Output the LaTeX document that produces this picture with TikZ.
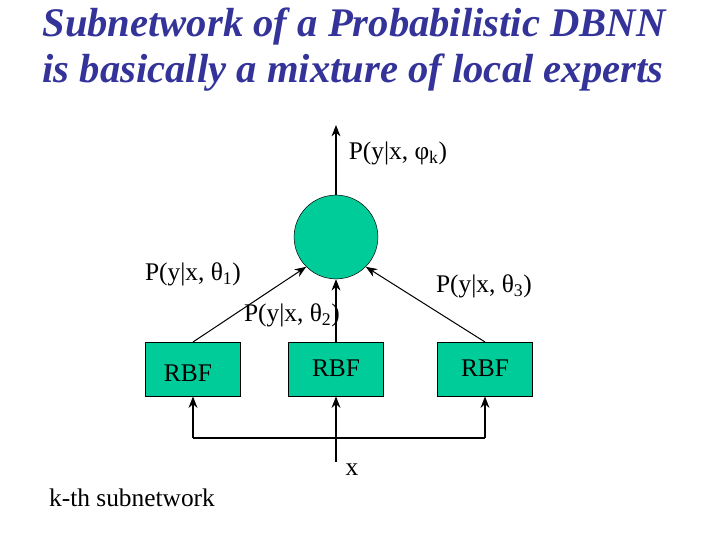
\documentclass[tikz,border=0pt]{standalone}
\usepackage{fontspec}
\setmainfont{Liberation Serif}
\usetikzlibrary{arrows.meta}
\definecolor{titleblue}{RGB}{51,51,153}
\definecolor{nodegreen}{RGB}{0,204,153}
\begin{document}
\begin{tikzpicture}[x=0.7875pt,y=-0.7875pt,
    lbl/.style={font=\fontsize{20}{22}\selectfont},
    rbfbox/.style={draw,fill=nodegreen,minimum width=74.8pt,minimum height=42.5pt,inner sep=0pt},
    arr/.style={-{Stealth[length=9pt,width=7pt]},thick}]
    \useasboundingbox (0,0) rectangle (720,540);
    % titel
    \node[titleblue,font=\fontsize{32}{34}\bfseries\itshape\selectfont] (t1) at (354,27) {Subnetwork of a Probabilistic DBNN};
    \node[titleblue,font=\fontsize{32}{34}\bfseries\itshape\selectfont] (t2) at (353,73) {is basically a mixture of local experts};

    % gating knoop
    \node[circle,draw,fill=nodegreen,minimum size=66pt,inner sep=0pt] (g) at (336,237) {};
    \coordinate (top) at (336,125);
    \draw[arr] (g) -- (top);
    \node[lbl] (pk) at (398,153) {P(y|x, φ\textsubscript{k})};

    % experts
    \node[rbfbox,anchor=north] (r1) at (193,342) {};
    \node[rbfbox,anchor=north] (r2) at (336,342) {};
    \node[rbfbox,anchor=north] (r3) at (485,342) {};
    \node[lbl] at (188,373) {RBF};
    \node[lbl] at (336,368) {RBF};
    \node[lbl] at (485,368) {RBF};

    \draw[arr] (r1.north) -- (g.225);
    \draw[arr] (r2.north) -- (g.south);
    \draw[arr] (r3.north) -- (g.-45);
    \node[lbl] (p1) at (193,274) {P(y|x, θ\textsubscript{1})};
    \node[lbl] (p2) at (292,315) {P(y|x, θ\textsubscript{2})};
    \node[lbl] (p3) at (484,286) {P(y|x, θ\textsubscript{3})};

    % invoer
    \coordinate (in) at (336,462);
    \coordinate (bl) at (193,438);
    \coordinate (br) at (485,438);
    \draw[thick] (in) -- (336,438);
    \draw[thick] (bl) -- (br);
    \draw[arr] (bl) -- (r1.south);
    \draw[arr] (336,438) -- (r2.south);
    \draw[arr] (br) -- (r3.south);
    \node[lbl] (x) at (352,470) {x};
    \node[lbl] (sub) at (132,498) {k-th subnetwork};
\end{tikzpicture}
\end{document}
